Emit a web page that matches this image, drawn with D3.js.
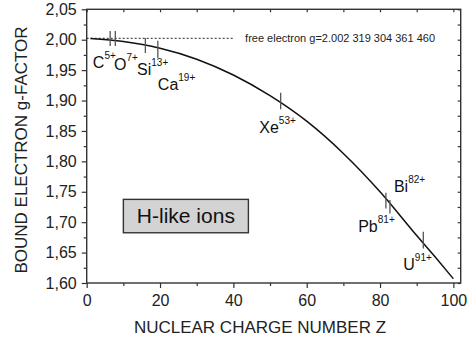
<!DOCTYPE html>
<html>
<head>
<meta charset="utf-8">
<script src="https://cdn.jsdelivr.net/npm/d3@7"></script>
<style>
  body { margin: 0; background: #fff; }
  svg { display: block; font-family: "Liberation Sans", Arial, sans-serif; }
  .tick text { font-size: 16px; fill: #222; }
  .tick line { stroke: #333; }
</style>
</head>
<body>
<div id="chart"></div>
<script>
// Theory curve
const curveZ = [1, 10, 20, 30, 40, 50, 60, 70, 80, 90, 95, 100];
const curveG = [2.002, 1.997, 1.986, 1.968, 1.942, 1.908, 1.866, 1.813, 1.750, 1.678, 1.643, 1.607];

// Measured ions: position and g range of each vertical mark
const ionName   = ['C', 'O', 'Si', 'Ca', 'Xe', 'Pb', 'Bi', 'U'];
const ionCharge = ['5+', '7+', '13+', '19+', '53+', '81+', '82+', '91+'];
const ionZ      = [6.4, 7.8, 16.0, 19.4, 52.9, 81.6, 82.7, 91.8];
const ionGHigh  = [2.0143, 2.0143, 2.0028, 1.9983, 1.9128, 1.7483, 1.7363, 1.6842];
const ionGLow   = [1.9896, 1.9896, 1.9781, 1.9699, 1.8855, 1.7226, 1.7144, 1.6568];

const freeElectronG = 2.002319304361460;
const freeElectronText = 'free electron g=2.002 319 304 361 460';

const xTicks = [0, 20, 40, 60, 80, 100];
const xMinor = [10, 30, 50, 70, 90];
const yTicks = [1.60, 1.65, 1.70, 1.75, 1.80, 1.85, 1.90, 1.95, 2.00, 2.05];
const yMinor = [1.625, 1.675, 1.725, 1.775, 1.825, 1.875, 1.925, 1.975, 2.025];

const W = 472, H = 340;
const svg = d3.select('#chart').append('svg')
    .attr('width', W)
    .attr('height', H);

const x = d3.scaleLinear().domain([0, 102]).range([86.7, 460.7]);
const y = d3.scaleLinear().domain([1.60, 2.05]).range([283, 9.3]);
const [x0, x1] = x.range();
const [y0, y1] = y.range();

const comma = v => d3.format('.2f')(v).replace('.', ',');

// Bottom axis
const gx = svg.append('g')
    .attr('transform', `translate(0,${y0})`)
    .call(d3.axisBottom(x).tickValues(xTicks).tickSize(5).tickPadding(6.5));
gx.select('.domain').remove();
svg.append('g')
    .attr('transform', `translate(0,${y0})`)
    .call(d3.axisBottom(x).tickValues(xMinor).tickSize(3).tickFormat(''))
    .select('.domain').remove();

// Left axis
const gy = svg.append('g')
    .attr('transform', `translate(${x0},0)`)
    .call(d3.axisLeft(y).tickValues(yTicks).tickSize(5).tickPadding(5).tickFormat(comma));
gy.select('.domain').remove();
svg.append('g')
    .attr('transform', `translate(${x0},0)`)
    .call(d3.axisLeft(y).tickValues(yMinor).tickSize(3).tickFormat(''))
    .select('.domain').remove();

// Top and right: short inward ticks
svg.append('g')
    .attr('transform', `translate(0,${y1})`)
    .call(d3.axisBottom(x).tickValues(xTicks.concat(xMinor)).tickSize(3).tickFormat(''))
    .select('.domain').remove();
svg.append('g')
    .attr('transform', `translate(${x1},0)`)
    .call(d3.axisLeft(y).tickValues(yTicks.concat(yMinor)).tickSize(3).tickFormat(''))
    .select('.domain').remove();

svg.selectAll('.tick line').attr('stroke', '#333').attr('stroke-width', 1.2);

// Frame
svg.append('rect')
    .attr('x', x0).attr('y', y1)
    .attr('width', x1 - x0).attr('height', y0 - y1)
    .attr('fill', 'none')
    .attr('stroke', '#333')
    .attr('stroke-width', 1.4);

// Free electron dashed line
svg.append('line')
    .attr('x1', x(0)).attr('x2', x(40))
    .attr('y1', y(freeElectronG)).attr('y2', y(freeElectronG))
    .attr('stroke', '#222')
    .attr('stroke-width', 1)
    .attr('stroke-dasharray', '2,2');

svg.append('text')
    .attr('x', x(43.2))
    .attr('y', y(freeElectronG) + 3.5)
    .attr('font-size', 11)
    .attr('fill', '#222')
    .text(freeElectronText);

// Theory curve
const curveData = curveZ.map((z, i) => ({ z, g: curveG[i] }));
svg.append('path')
    .datum(curveData)
    .attr('fill', 'none')
    .attr('stroke', '#111')
    .attr('stroke-width', 1.5)
    .attr('d', d3.line()
        .x(d => x(d.z))
        .y(d => y(d.g))
        .curve(d3.curveMonotoneX));

// Measurement marks
const ions = ionName.map((name, i) => ({
    name, charge: ionCharge[i], z: ionZ[i], hi: ionGHigh[i], lo: ionGLow[i]
}));

svg.selectAll('.ion')
    .data(ions)
    .enter().append('line')
    .attr('class', 'ion')
    .attr('x1', d => x(d.z)).attr('x2', d => x(d.z))
    .attr('y1', d => y(d.hi)).attr('y2', d => y(d.lo))
    .attr('stroke', '#555')
    .attr('stroke-width', 1.3);

// Label placement (pixel offsets from each mark's lower end)
const labelOffset = {
    C:  [-17.3, 22],
    O:  [-1.3, 23.5],
    Si: [-8.3, 21.5],
    Ca: [0, 31.5],
    Xe: [-21.4, 23.2],
    Pb: [-27.7, 23.2],
    Bi: [4, -21.8],
    U:  [-20, 21.7]
};

const labels = svg.selectAll('.ionLabel')
    .data(ions)
    .enter().append('text')
    .attr('class', 'ionLabel')
    .attr('x', d => x(d.z) + labelOffset[d.name][0])
    .attr('y', d => y(d.lo) + labelOffset[d.name][1])
    .attr('font-size', 16)
    .attr('fill', '#111');

labels.append('tspan').text(d => d.name);
labels.append('tspan')
    .attr('font-size', 10)
    .attr('dy', -9)
    .text(d => d.charge);

// H-like ions box
const box = svg.append('g');
box.append('rect')
    .attr('x', x(10)).attr('y', y(1.7375))
    .attr('width', x(44.1) - x(10))
    .attr('height', y(1.6826) - y(1.7375))
    .attr('fill', '#d3d3d3')
    .attr('stroke', '#333')
    .attr('stroke-width', 1.4);
box.append('text')
    .attr('x', (x(10) + x(44.1)) / 2)
    .attr('y', y(1.6826) - 9.5)
    .attr('text-anchor', 'middle')
    .attr('font-size', 21)
    .attr('fill', '#111')
    .text('H-like ions');

// Axis titles
svg.append('text')
    .attr('x', 260)
    .attr('y', 333)
    .attr('text-anchor', 'middle')
    .attr('font-size', 17)
    .attr('fill', '#222')
    .text('NUCLEAR CHARGE NUMBER Z');

svg.append('text')
    .attr('transform', 'translate(26.5,150) rotate(-90)')
    .attr('text-anchor', 'middle')
    .attr('font-size', 17)
    .attr('fill', '#222')
    .text('BOUND ELECTRON g-FACTOR');
</script>
</body>
</html>
